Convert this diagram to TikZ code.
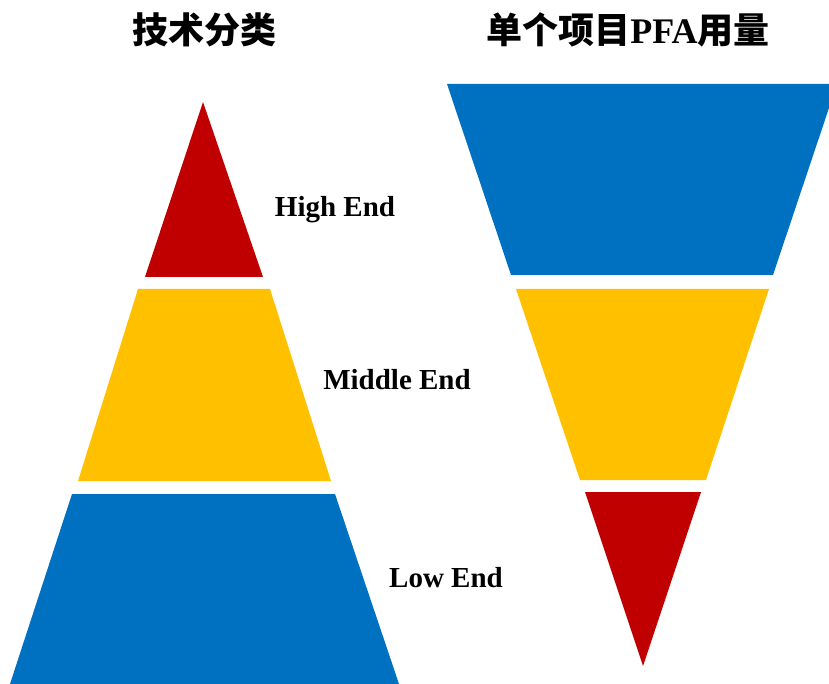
\documentclass[tikz,border=0pt]{standalone}
\usepackage{fontspec}
\setmainfont{Liberation Serif}
\newfontfamily\cjk{Noto Sans CJK SC}
\usetikzlibrary{positioning}
\definecolor{rouge}{HTML}{C00000}
\definecolor{jaune}{HTML}{FFC000}
\definecolor{bleu}{HTML}{0070C0}
\tikzset{
  titre/.style={font=\fontsize{36}{38}\selectfont\bfseries, inner sep=0pt},
  etiquette/.style={font=\fontsize{29}{32}\selectfont\bfseries, inner sep=0pt, anchor=base}
}

\begin{document}
\begin{tikzpicture}[x=1pt, y=-1pt]
\useasboundingbox (0,0) rectangle (829,684);
\clip (0,0) rectangle (829,684);

% Titres
\node[titre] (T1) at (204,30) {\cjk 技术分类};
\node[titre] (T2) at (628,30) {\cjk 单个项目\rmfamily PFA\cjk 用量};

% Pyramide
\fill[rouge] (203,102) -- (263,277) -- (145,277) -- cycle;
\fill[jaune] (138,289) -- (270,289) -- (331,481) -- (78,481) -- cycle;
\fill[bleu] (72,494) -- (335,494) -- (399,684) -- (10,684) -- cycle;

% Pyramide inversée
\fill[bleu] (447,84) -- (837,84) -- (773,275) -- (511,275) -- cycle;
\fill[jaune] (516,289) -- (769,289) -- (706,480) -- (580,480) -- cycle;
\fill[rouge] (585,492) -- (701,492) -- (643,666) -- cycle;

% Etiquettes
\node[etiquette] (H) at (335,217) {High End};
\node[etiquette] (M) at (397,389) {Middle End};
\node[etiquette] (L) at (446,587) {Low End};

\end{tikzpicture}
\end{document}
